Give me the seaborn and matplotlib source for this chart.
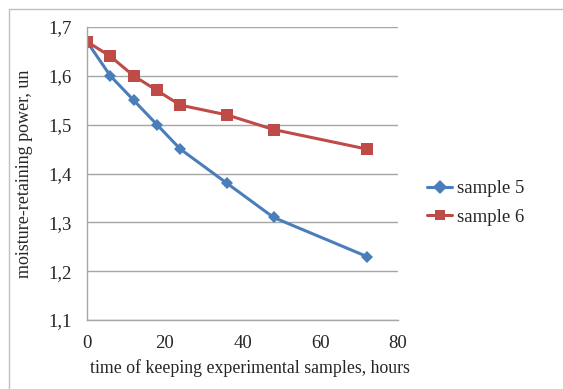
import matplotlib.pyplot as plt
import seaborn as sns
import pandas as pd
from matplotlib.patches import Rectangle
from matplotlib.ticker import FuncFormatter

hours = [0, 6, 12, 18, 24, 36, 48, 72]
sample5 = [1.67, 1.60, 1.55, 1.50, 1.45, 1.38, 1.31, 1.23]
sample6 = [1.67, 1.64, 1.60, 1.57, 1.54, 1.52, 1.49, 1.45]
series_names = ['sample 5', 'sample 6']

df = pd.DataFrame({
    'hours': hours * 2,
    'value': sample5 + sample6,
    'series': [series_names[0]] * len(hours) + [series_names[1]] * len(hours),
})

sns.set_style('white')
plt.rcParams['font.family'] = ['Liberation Serif', 'DejaVu Serif']

fig = plt.figure(figsize=(5.63, 3.89), dpi=100)
ax = fig.add_axes([87 / 563, 1 - 320 / 389, 311 / 563, 293 / 389])

sns.lineplot(data=df, x='hours', y='value', hue='series', style='series',
             palette=['#4A7EBB', '#BE4B48'], markers=['D', 's'], dashes=False,
             linewidth=2.2, markersize=7, markeredgewidth=0, ax=ax)
# bigger squares than diamonds
for ln, ms in zip(ax.get_lines()[:2], [6.5, 8.5]):
    ln.set_markersize(ms)

ax.set_xlim(0, 80)
ax.set_ylim(1.1, 1.7)
ax.set_xticks([0, 20, 40, 60, 80])
ax.set_yticks([1.1, 1.2, 1.3, 1.4, 1.5, 1.6, 1.7])
ax.yaxis.set_major_formatter(FuncFormatter(lambda v, p: f'{v:.1f}'.replace('.', ',')))
ax.tick_params(labelsize=13.5, length=0)
ax.tick_params(axis='x', pad=11)
ax.tick_params(axis='y', pad=11)
ax.grid(axis='y', color='#A6A6A6', linewidth=1)
ax.set_axisbelow(True)
for s in ['top', 'right']:
    ax.spines[s].set_visible(False)
for s in ['left', 'bottom']:
    ax.spines[s].set_color('#A6A6A6')
    ax.spines[s].set_linewidth(1)

ax.set_xlabel('time of keeping experimental samples, hours', fontsize=12.8, labelpad=5)
ax.xaxis.set_label_coords(0.524, -0.135)
ax.set_ylabel('moisture-retaining power, un', fontsize=13, labelpad=11)

handles, labels = ax.get_legend_handles_labels()
ax.legend(handles, labels, loc='center left', bbox_to_anchor=(1.04, 0.40),
          frameon=False, fontsize=13.5, handlelength=1.3, handletextpad=0.3,
          labelspacing=0.6)

fig.patches.append(Rectangle((9 / 563, -0.01), 1.0, 1 - 9 / 389 + 0.01,
                             transform=fig.transFigure, fill=False,
                             edgecolor='#BFBFBF', linewidth=1))

fig.savefig('out.png', dpi=100)
